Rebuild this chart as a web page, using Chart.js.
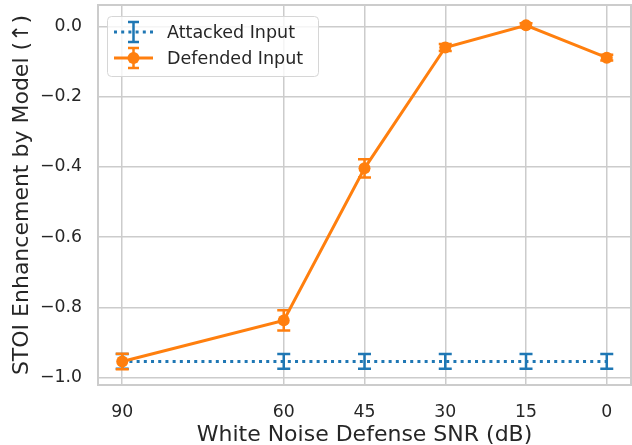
<!DOCTYPE html>
<html>
<head>
<meta charset="utf-8">
<script src="https://cdn.jsdelivr.net/npm/chart.js@4.4.1/dist/chart.umd.min.js"></script>
<style>
  html, body { margin: 0; padding: 0; background: #ffffff; }
  #wrap { width: 632px; height: 445px; }
</style>
</head>
<body>
<div id="wrap"><canvas id="chart" width="632" height="445"></canvas></div>
<script>
// data
const snrLevels = [90, 60, 45, 30, 15, 0];
const defendedValues = [-0.954, -0.837, -0.404, -0.060, 0.003, -0.089];
const defendedErrors = [0.022, 0.029, 0.026, 0.010, 0.006, 0.008];
const attackedValues = [-0.954, -0.954, -0.954, -0.954, -0.954, -0.954];
const attackedErrors = [0.021, 0.021, 0.021, 0.021, 0.021, 0.021];
const yTickValues = [0.0, -0.2, -0.4, -0.6, -0.8, -1.0];

const BLUE = '#1f77b4';
const ORANGE = '#ff7f0e';
const TEXT = '#262626';
const GRID = '#cccccc';
const FONT = '"DejaVu Sans", sans-serif';

function toPoints(xs, ys) {
    return xs.map((x, i) => ({ x: x, y: ys[i] }));
}

// box round the plot area
const frameBox = {
    id: 'frameBox',
    beforeDatasetsDraw(chart) {
        const a = chart.chartArea, ctx = chart.ctx;
        ctx.save();
        ctx.strokeStyle = GRID;
        ctx.lineWidth = 2;
        ctx.strokeRect(a.left, a.top, a.right - a.left, a.bottom - a.top);
        ctx.restore();
    }
};

// error bars drawn with the chart scales
const errorBars = {
    id: 'errorBars',
    afterDatasetDraw(chart, args) {
        const ds = chart.data.datasets[args.index];
        if (!ds.errors) return;
        const ctx = chart.ctx;
        const xs = chart.scales.x, ys = chart.scales.y;
        ctx.save();
        ctx.strokeStyle = ds.borderColor;
        ctx.lineWidth = 2.5;
        ctx.setLineDash([]);
        ds.data.forEach((p, i) => {
            const px = xs.getPixelForValue(p.x);
            const top = ys.getPixelForValue(p.y + ds.errors[i]);
            const bot = ys.getPixelForValue(p.y - ds.errors[i]);
            ctx.beginPath();
            ctx.moveTo(px, top); ctx.lineTo(px, bot);
            ctx.moveTo(px - 6.5, top); ctx.lineTo(px + 6.5, top);
            ctx.moveTo(px - 6.5, bot); ctx.lineTo(px + 6.5, bot);
            ctx.stroke();
        });
        ctx.restore();
    }
};

// matplotlib-like legend box
const legendBox = {
    id: 'legendBox',
    afterDraw(chart) {
        const ctx = chart.ctx;
        ctx.save();
        const x0 = 107.5, y0 = 16.5, w = 211, h = 60, r = 4;
        ctx.beginPath();
        ctx.roundRect(x0, y0, w, h, r);
        ctx.fillStyle = 'rgba(255,255,255,0.8)';
        ctx.fill();
        ctx.strokeStyle = '#d6d6d6';
        ctx.lineWidth = 1;
        ctx.stroke();

        const rows = [
            { label: 'Attacked Input', color: BLUE, dash: [3, 4.2], marker: false, cy: 32 },
            { label: 'Defended Input', color: ORANGE, dash: [], marker: true, cy: 58 }
        ];
        rows.forEach(row => {
            ctx.strokeStyle = row.color;
            ctx.fillStyle = row.color;
            ctx.lineWidth = 3;
            ctx.setLineDash(row.dash);
            ctx.beginPath();
            ctx.moveTo(114, row.cy); ctx.lineTo(153, row.cy);
            ctx.stroke();
            ctx.setLineDash([]);
            ctx.lineWidth = 2.5;
            ctx.beginPath();
            ctx.moveTo(133.5, row.cy - 10); ctx.lineTo(133.5, row.cy + 10);
            ctx.moveTo(128, row.cy - 10); ctx.lineTo(139, row.cy - 10);
            ctx.moveTo(128, row.cy + 10); ctx.lineTo(139, row.cy + 10);
            ctx.stroke();
            if (row.marker) {
                ctx.beginPath();
                ctx.arc(133.5, row.cy, 6, 0, Math.PI * 2);
                ctx.fill();
            }
            ctx.fillStyle = TEXT;
            ctx.font = '17.5px ' + FONT;
            ctx.textBaseline = 'middle';
            ctx.fillText(row.label, 167, row.cy + 1);
        });
        ctx.restore();
    }
};

new Chart(document.getElementById('chart'), {
    type: 'line',
    data: {
        datasets: [
            {
                label: 'Defended Input',
                data: toPoints(snrLevels, defendedValues),
                errors: defendedErrors,
                borderColor: ORANGE,
                backgroundColor: ORANGE,
                borderWidth: 3,
                pointRadius: 6,
                pointBorderWidth: 0,
                pointHoverRadius: 6,
                tension: 0
            },
            {
                label: 'Attacked Input',
                data: toPoints(snrLevels, attackedValues),
                errors: attackedErrors,
                borderColor: BLUE,
                backgroundColor: BLUE,
                borderWidth: 3,
                borderDash: [3, 4.2],
                pointRadius: 0,
                tension: 0
            }
        ]
    },
    options: {
        responsive: false,
        animation: false,
        layout: { autoPadding: false, padding: { top: 5, right: 1, left: 0, bottom: 0 } },
        plugins: { legend: { display: false }, tooltip: { enabled: false } },
        scales: {
            x: {
                type: 'linear',
                reverse: true,
                min: -4.5,
                max: 94.5,
                afterBuildTicks(axis) { axis.ticks = snrLevels.map(v => ({ value: v })); },
                afterFit(axis) {
                    axis.height = 60;
                    axis.paddingLeft = 0; axis.paddingRight = 0;
                },
                grid: { color: GRID, lineWidth: 1.5, drawTicks: false },
                border: { color: GRID, width: 2 },
                ticks: {
                    color: TEXT,
                    font: { family: FONT, size: 17.3 },
                    padding: 17,
                    maxRotation: 0,
                    autoSkip: false,
                    callback: v => String(v)
                },
                title: {
                    display: true,
                    text: 'White Noise Defense SNR (dB)',
                    color: TEXT,
                    font: { family: FONT, size: 22 },
                    padding: { top: 0, bottom: -3 }
                }
            },
            y: {
                type: 'linear',
                min: -1.021,
                max: 0.061,
                afterBuildTicks(axis) { axis.ticks = yTickValues.map(v => ({ value: v })); },
                afterFit(axis) {
                    axis.width = 98;
                    axis.paddingTop = 0; axis.paddingBottom = 0;
                },
                grid: { color: GRID, lineWidth: 1.5, drawTicks: false },
                border: { color: GRID, width: 2 },
                ticks: {
                    color: TEXT,
                    font: { family: FONT, size: 17.3 },
                    padding: 16,
                    callback: v => (v < 0 ? '\u2212' : '') + Math.abs(v).toFixed(1)
                },
                title: {
                    display: true,
                    text: 'STOI Enhancement by Model (\u2191)',
                    color: TEXT,
                    font: { family: FONT, size: 22 },
                    padding: { top: 9, bottom: 0 }
                }
            }
        }
    },
    plugins: [frameBox, errorBars, legendBox]
});
</script>
</body>
</html>
